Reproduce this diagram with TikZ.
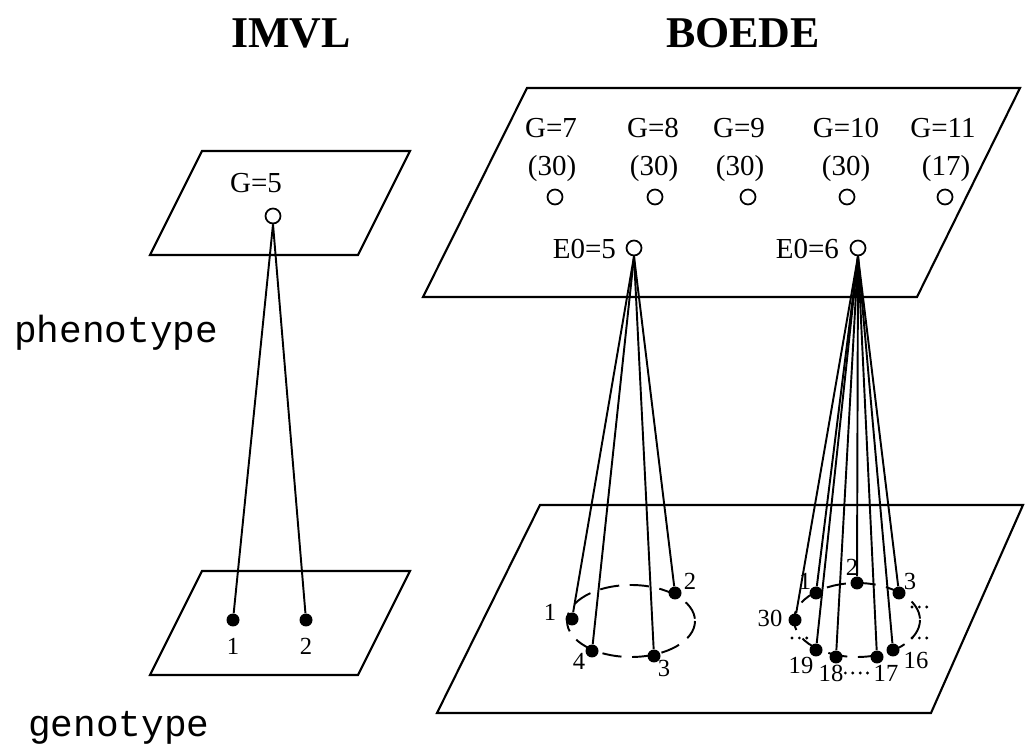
\documentclass[tikz,border=0pt]{standalone}
\usepackage{fontspec}
\setmainfont{Liberation Serif}
\newfontfamily\levelfont{Liberation Mono}
\usepackage{tikz}
\usetikzlibrary{arrows.meta}

\begin{document}
\begin{tikzpicture}[x=0.02cm, y=-0.02cm,
  plane/.style={draw, line width=1.2pt, line join=miter},
  gnode/.style={draw, circle, line width=1pt, fill=white,
    inner sep=0pt, minimum size=0.3cm},
  locus/.style={circle, fill=black, inner sep=0pt, minimum size=0.26cm},
  wire/.style={line width=1.1pt},
  ring/.style={line width=1.1pt, dash pattern=on 11pt off 6pt},
  gap/.style={line width=1.8pt, line cap=round, dash pattern=on 0pt off 4.2pt},
  ttl/.style={font=\fontsize{25}{30}\selectfont\bfseries, anchor=base},
  glab/.style={font=\fontsize{16.5}{19}\selectfont, inner sep=1pt},
  num/.style={font=\fontsize{14}{16}\selectfont, inner sep=1pt},
  level/.style={font=\levelfont\fontsize{21.5}{25}\selectfont, anchor=base west}]
  \useasboundingbox (0,0) rectangle (1025,749);

  % Column titles
  \node[ttl] (imvl)  at (291,48) {IMVL};
  \node[ttl] (boede) at (743,48) {BOEDE};
  % Level names
  \node[level] (pheno) at (8,343) {phenotype};
  \node[level] (geno)  at (22,737) {genotype};

  % Planes
  \draw[plane] (202,151) -- (410,151) -- (358,255) -- (150,255) -- cycle;
  \draw[plane] (202,571) -- (410,571) -- (358,675) -- (150,675) -- cycle;
  \draw[plane] (527,88) -- (1020,88) -- (917,297) -- (423,297) -- cycle;
  \draw[plane] (540,505) -- (1023,505) -- (931,713) -- (437,713) -- cycle;

  % IMVL
  \node[glab]  (g5lab) at (256,183) {G=5};
  \node[gnode] (g5) at (273,216) {};
  \node[locus] (l1) at (233,620) {};
  \node[locus] (l2) at (306,620) {};
  \node[num] at (233,646) {1};
  \node[num] at (306,646) {2};
  \draw[wire] (g5.south) -- (l1);
  \draw[wire] (g5.south) -- (l2);

  % BOEDE, groups on the phenotype plane
  \node[glab] at (551,128) {G=7};
  \node[glab] at (653,128) {G=8};
  \node[glab] at (739,128) {G=9};
  \node[glab] at (846,128) {G=10};
  \node[glab] at (943,128) {G=11};
  \node[glab] at (552,169) {(30)};
  \node[glab] at (654,169) {(30)};
  \node[glab] at (740,169) {(30)};
  \node[glab] at (846,169) {(30)};
  \node[glab] at (946,169) {(17)};
  \node[gnode] (g7)  at (555,197) {};
  \node[gnode] (g8)  at (655,197) {};
  \node[gnode] (g9)  at (748,197) {};
  \node[gnode] (g10) at (847,197) {};
  \node[gnode] (g11) at (945,197) {};
  \node[gnode] (e5) at (634,248) {};
  \node[gnode] (e6) at (858,248) {};
  \node[glab, anchor=east] at (618,249) {E0=5};
  \node[glab, anchor=east] at (841,249) {E0=6};

  % E0=5 cone
  \draw[ring] (631,621) ellipse [x radius=64, y radius=36];
  \node[locus] (c1) at (572,619) {};
  \node[locus] (c2) at (675,593) {};
  \node[locus] (c3) at (654,656) {};
  \node[locus] (c4) at (592,651) {};
  \node[num] at (550,612) {1};
  \node[num] at (690,581) {2};
  \node[num] at (664,668) {3};
  \node[num] at (579,661) {4};
  \draw[wire] (e5.south) -- (c1);
  \draw[wire] (e5.south) -- (c2);
  \draw[wire] (e5.south) -- (c3);
  \draw[wire] (e5.south) -- (c4);

  % E0=6 cone
  \draw[ring] (857,620) ellipse [x radius=63, y radius=37];
  \draw[gap] (792,638) -- (810,638);
  \draw[gap] (912,607) -- (931,607);
  \draw[gap] (912,638) -- (931,638);
  \node[locus] (r30) at (795,620) {};
  \node[locus] (r1)  at (816,593) {};
  \node[locus] (r2)  at (857,583) {};
  \node[locus] (r3)  at (899,593) {};
  \node[locus] (r16) at (893,650) {};
  \node[locus] (r17) at (877,657) {};
  \node[locus] (r18) at (836,657) {};
  \node[locus] (r19) at (816,650) {};
  \node[num] at (770,618) {30};
  \node[num] at (805,581) {1};
  \node[num] at (852,567) {2};
  \node[num] at (910,581) {3};
  \node[num] at (916,660) {16};
  \node[num] (n17) at (886,673) {17};
  \node[num] (n18) at (831,673) {18};
  \node[num] at (801,665) {19};
  \draw[gap] (n18.east) -- (n17.west);
  \draw[wire] (e6.south) -- (r30);
  \draw[wire] (e6.south) -- (r1);
  \draw[wire] (e6.south) -- (r2);
  \draw[wire] (e6.south) -- (r3);
  \draw[wire] (e6.south) -- (r16);
  \draw[wire] (e6.south) -- (r17);
  \draw[wire] (e6.south) -- (r18);
  \draw[wire] (e6.south) -- (r19);
\end{tikzpicture}
\end{document}
